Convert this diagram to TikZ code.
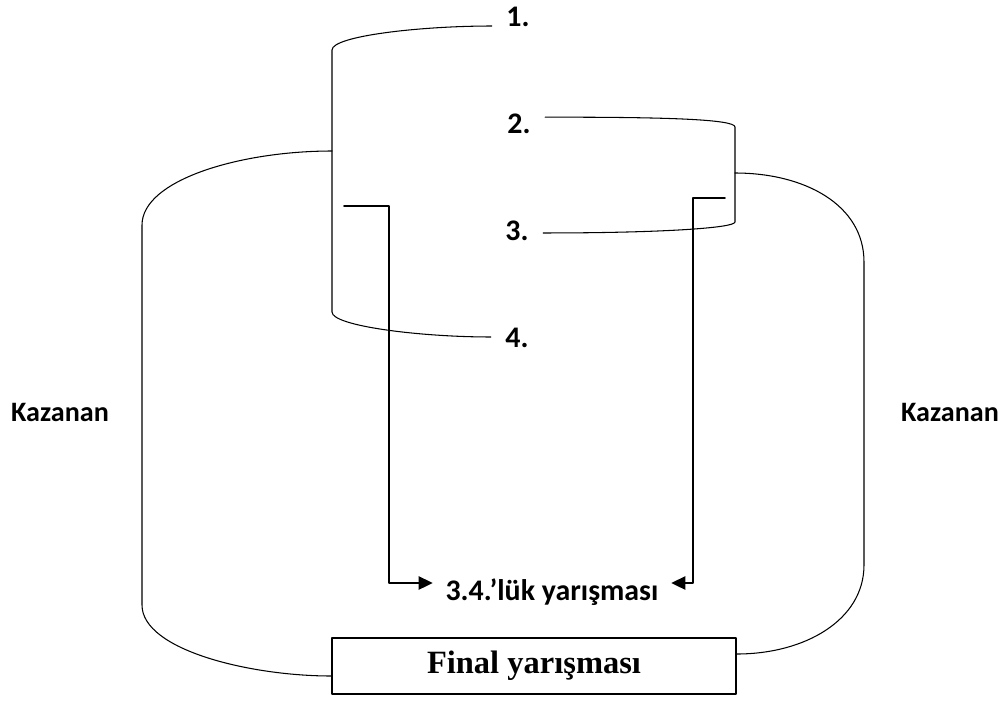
\documentclass[tikz,border=0pt]{standalone}
\usepackage{fontspec}
\setmainfont{Liberation Serif}
\newfontfamily\calibri{Carlito}
\usetikzlibrary{arrows.meta,positioning}
\tikzset{
  num/.style={inner sep=0pt, anchor=base, font=\calibri\bfseries\fontsize{17}{20}\selectfont},
  arw/.style={line width=1pt, ->},
}
\begin{document}
\begin{tikzpicture}[x=0.02cm, y=-0.02cm, >={Triangle[length=8pt,width=7.5pt]}, line join=round, line cap=round, line width=0.6pt, font=\calibri\bfseries\fontsize{16}{19}\selectfont]
\useasboundingbox (0,0) rectangle (1008,704);
\path (332,50) coordinate (L1)
      (332,312) coordinate (L4)
      (332,151) coordinate (LJ)
      (735,127) coordinate (R2)
      (735,222) coordinate (R3)
      (735,173) coordinate (RJ)
      (344,206) coordinate (s3) (389,206) coordinate (k3)
      (725,198) coordinate (s4) (693,198) coordinate (k4);
\foreach \n/\x/\y in {1/518/26,2/519/133,3/517/240,4/517/347}{
  \node[num] (n\n) at (\x,\y) {\n.};
}
\node (kl) at (60,412) {Kazanan};
\node (kr) at (950,412) {Kazanan};
\node[inner xsep=7pt, font=\calibri\bfseries\fontsize{17}{20}\selectfont] (bronze) at (552,592) {3.4.’lük yarışması};
\node[draw, line width=0.8pt, minimum width=8.08cm, minimum height=1.12cm,
      font=\rmfamily\bfseries\fontsize{18.5}{22}\selectfont] (final) at (534,666) {Final yarışması};
% brackets
\draw ([xshift=-8pt]n1.base west) .. controls (420,26) and (332,36) .. (L1)
      -- (L4) .. controls (332,326) and (420,337) .. ([xshift=-8pt,yshift=5.7pt]n4.base west);
\draw ([xshift=8pt,yshift=9pt]n2.base east) .. controls (660,117) and (735,119) .. (R2)
      -- (R3) .. controls (735,228) and (660,233) .. ([xshift=8pt,yshift=4pt]n3.base east);
% winners to final
\draw (LJ) .. controls (240,151) and (142,180) .. (142,225) -- (142,605)
      .. controls (142,650) and (250,676) .. ([yshift=-0.2cm]final.west);
\draw (RJ) .. controls (805,173) and (864,205) .. (864,262) -- (864,565)
      .. controls (864,620) and (805,654) .. ([yshift=0.24cm]final.east);
% losers
\draw[arw] (s3) -- (k3) |- ([yshift=0.18cm]bronze.west);
\draw[arw] (s4) -- (k4) |- ([yshift=0.18cm]bronze.east);
\end{tikzpicture}
\end{document}
